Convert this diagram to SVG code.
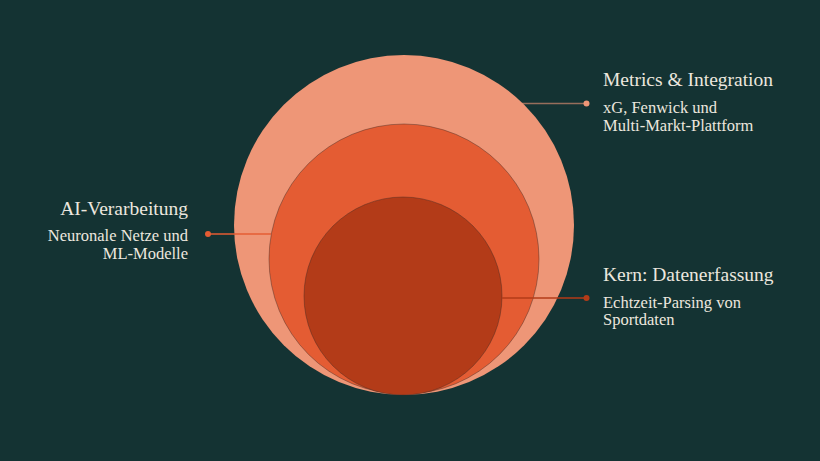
<svg xmlns="http://www.w3.org/2000/svg" width="820" height="461" viewBox="0 0 820 461">
<style>
.t{font-family:"Liberation Serif","DejaVu Serif",serif;fill:#ece7df}
.h{font-size:19.5px}
.s{font-size:16.5px}
.c{stroke:#3a2a24;stroke-opacity:0.6;stroke-width:0.7}
</style>
<rect width="820" height="461" fill="#143333"/>
<g id="outer"><circle cx="404" cy="225" r="170" fill="#ee9677"/></g>
<g id="middle"><circle class="c" cx="404" cy="259" r="135" fill="#e45c33"/></g>
<g id="inner"><circle class="c" cx="403" cy="296" r="99" fill="#b33b18"/></g>
<g id="connectors">
<line x1="522" y1="103.5" x2="586" y2="103.5" stroke="#ee9677" stroke-opacity="0.6" stroke-width="1.5"/>
<circle cx="586.5" cy="103.5" r="3" fill="#ee9677"/>
<line x1="208" y1="234" x2="271" y2="234" stroke="#e45c33" stroke-width="1.5"/>
<circle cx="208" cy="234" r="3" fill="#e45c33"/>
<line x1="502" y1="298" x2="586" y2="298" stroke="#b33b18" stroke-width="1.5"/>
<circle cx="586.5" cy="298" r="3" fill="#b33b18"/>
</g>
<g id="label-metrics">
<text class="t h" x="603" y="86">Metrics &amp; Integration</text>
<text class="t s" x="603" y="112.5">xG, Fenwick und</text>
<text class="t s" x="603" y="130.5">Multi-Markt-Plattform</text>
</g>
<g id="label-ai" text-anchor="end">
<text class="t h" x="188" y="215">AI-Verarbeitung</text>
<text class="t s" x="188" y="241">Neuronale Netze und</text>
<text class="t s" x="188" y="259">ML-Modelle</text>
</g>
<g id="label-kern">
<text class="t h" x="603" y="281">Kern: Datenerfassung</text>
<text class="t s" x="603" y="307.5">Echtzeit-Parsing von</text>
<text class="t s" x="603" y="325">Sportdaten</text>
</g>
</svg>
